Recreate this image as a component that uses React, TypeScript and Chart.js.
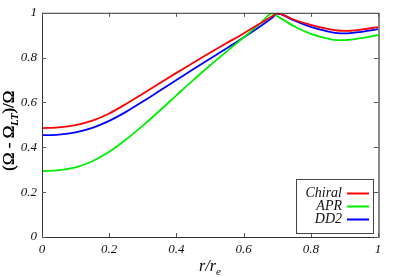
import React, { useEffect, useRef } from "react";
import { Chart, registerables } from "chart.js";

Chart.register(...registerables);

const rValues = [0, 0.05, 0.1, 0.15, 0.2, 0.25, 0.3, 0.35, 0.4, 0.45, 0.5, 0.55, 0.6, 0.65, 0.685, 0.7, 0.75, 0.8, 0.85, 0.88, 0.9, 0.95, 1];
const chiral = [0.486, 0.489, 0.499, 0.519, 0.551, 0.593, 0.639, 0.686, 0.732, 0.777, 0.822, 0.865, 0.908, 0.953, 0.985, 0.997, 0.969, 0.946, 0.928, 0.921, 0.919, 0.925, 0.936];
const apr = [0.294, 0.298, 0.311, 0.338, 0.38, 0.435, 0.497, 0.563, 0.632, 0.7, 0.765, 0.828, 0.89, 0.953, 0.997, 0.985, 0.94, 0.906, 0.885, 0.878, 0.878, 0.887, 0.901];
const dd2 = [0.454, 0.457, 0.467, 0.487, 0.518, 0.558, 0.604, 0.652, 0.7, 0.748, 0.795, 0.842, 0.89, 0.94, 0.978, 0.996, 0.966, 0.937, 0.917, 0.909, 0.908, 0.915, 0.927];
const seriesNames = ["Chiral", "APR", "DD2"];
const seriesColors = ["#ff0000", "#00ee00", "#0000ff"];
const tickValues = [0, 0.2, 0.4, 0.6, 0.8, 1];

const SERIF = "'Liberation Serif', 'DejaVu Serif', serif";

const framePlugin = {
  id: "frameAndLabels",
  afterDraw(chart: any) {
    const ctx = chart.ctx;
    const { left, right, top, bottom } = chart.chartArea;
    const xs = chart.scales.x;
    const ys = chart.scales.y;
    ctx.save();
    // frame
    ctx.strokeStyle = "#333";
    ctx.lineWidth = 1;
    ctx.beginPath();
    ctx.moveTo(left + 0.5, top);
    ctx.lineTo(left + 0.5, bottom);
    ctx.moveTo(left, bottom + 0.5);
    ctx.lineTo(right, bottom + 0.5);
    ctx.moveTo(left, top + 0.5);
    ctx.lineTo(right, top + 0.5);
    ctx.stroke();
    ctx.strokeStyle = "#888";
    ctx.lineWidth = 2;
    ctx.beginPath();
    ctx.moveTo(right + 1, top);
    ctx.lineTo(right + 1, bottom + 1);
    ctx.stroke();
    // inward ticks
    ctx.strokeStyle = "#555";
    ctx.lineWidth = 1;
    ctx.beginPath();
    tickValues.forEach((v) => {
      const px = Math.round(xs.getPixelForValue(v)) + 0.5;
      ctx.moveTo(px, bottom);
      ctx.lineTo(px, bottom - 4);
      ctx.moveTo(px, top);
      ctx.lineTo(px, top + 4);
      const py = Math.round(ys.getPixelForValue(v)) + 0.5;
      ctx.moveTo(left, py);
      ctx.lineTo(left + 4, py);
      ctx.moveTo(right, py);
      ctx.lineTo(right - 4, py);
    });
    ctx.stroke();

    // y title with subscript
    ctx.fillStyle = "#000";
    const mainFont = `17px ${SERIF}`;
    const subFont = `italic 11px ${SERIF}`;
    const parts: [string, string, number][] = [
      ["(Ω - Ω", mainFont, 0],
      ["LT", subFont, 4],
      [")/Ω", mainFont, 0],
    ];
    let total = 0;
    parts.forEach(([t, f]) => {
      ctx.font = f;
      total += ctx.measureText(t).width;
    });
    ctx.translate(14, (top + bottom) / 2 + 6);
    ctx.rotate(-Math.PI / 2);
    let cx = -total / 2;
    ctx.textBaseline = "alphabetic";
    ctx.textAlign = "left";
    parts.forEach(([t, f, dy]) => {
      ctx.font = f;
      ctx.fillText(t, cx, dy);
      ctx.fillText(t, cx + 0.4, dy);
      cx += ctx.measureText(t).width;
    });
    ctx.setTransform(1, 0, 0, 1, 0, 0);

    // x title
    const xParts: [string, string, number][] = [
      ["r/r", `italic 16px ${SERIF}`, 0],
      ["e", `italic 11px ${SERIF}`, 4],
    ];
    total = 0;
    xParts.forEach(([t, f]) => {
      ctx.font = f;
      total += ctx.measureText(t).width;
    });
    cx = (left + right) / 2 - total / 2;
    xParts.forEach(([t, f, dy]) => {
      ctx.font = f;
      ctx.fillText(t, cx, 271 + dy);
      cx += ctx.measureText(t).width;
    });

    // legend
    const bx = 296, by = 179, bw = 77, bh = 54;
    ctx.fillStyle = "#fff";
    ctx.fillRect(bx, by, bw, bh);
    ctx.strokeStyle = "#444";
    ctx.lineWidth = 1;
    ctx.strokeRect(bx + 0.5, by + 0.5, bw, bh);
    ctx.font = `italic 14px ${SERIF}`;
    ctx.textAlign = "right";
    ctx.textBaseline = "middle";
    chart.data.datasets.forEach((ds: any, i: number) => {
      const ry = 193 + i * 13;
      ctx.fillStyle = "#111";
      ctx.fillText(ds.label, 342, ry);
      ctx.strokeStyle = ds.borderColor;
      ctx.lineWidth = 2;
      ctx.beginPath();
      ctx.moveTo(347, ry + 0.5);
      ctx.lineTo(369, ry + 0.5);
      ctx.stroke();
    });
    ctx.restore();
  },
};

export default function App() {
  const ref = useRef<HTMLCanvasElement | null>(null);
  useEffect(() => {
    document.body.style.margin = "0";
    const seriesData = [chiral, apr, dd2];
    const chart = new Chart(ref.current as HTMLCanvasElement, {
      type: "line",
      data: {
        datasets: seriesData.map((vals, i) => ({
          label: seriesNames[i],
          data: vals.map((v, j) => ({ x: rValues[j], y: v })),
          borderColor: seriesColors[i],
          backgroundColor: seriesColors[i],
          borderWidth: 1.8,
          pointRadius: 0,
          cubicInterpolationMode: "monotone" as const,
          fill: false,
        })),
      },
      options: {
        animation: false,
        responsive: false,
        maintainAspectRatio: false,
        layout: { padding: { top: 9, right: 18, left: 0, bottom: 0 } },
        plugins: { legend: { display: false }, tooltip: { enabled: false } },
        scales: {
          x: {
            type: "linear",
            min: 0,
            max: 1,
            afterFit: (s: any) => { s.height = 40; },
            afterBuildTicks: (s: any) => { s.ticks = tickValues.map((v) => ({ value: v })); },
            grid: { display: false, drawTicks: false },
            border: { display: false },
            ticks: {
              padding: 5,
              color: "#111",
              font: { family: SERIF, size: 13, style: "italic" },
              callback: (v: any) => String(Math.round(Number(v) * 10) / 10),
            },
          },
          y: {
            type: "linear",
            min: 0,
            max: 1,
            afterFit: (s: any) => { s.width = 42; },
            afterBuildTicks: (s: any) => { s.ticks = tickValues.map((v) => ({ value: v })); },
            grid: { display: false, drawTicks: false },
            border: { display: false },
            ticks: {
              padding: 5,
              color: "#111",
              font: { family: SERIF, size: 13, style: "italic" },
              callback: (v: any) => String(Math.round(Number(v) * 10) / 10),
            },
          },
        },
      },
      plugins: [framePlugin],
    });
    return () => chart.destroy();
  }, []);
  return (
    <div style={{ width: 396, height: 277 }}>
      <canvas ref={ref} width={396} height={277} style={{ width: 396, height: 277, display: "block" }} />
    </div>
  );
}
